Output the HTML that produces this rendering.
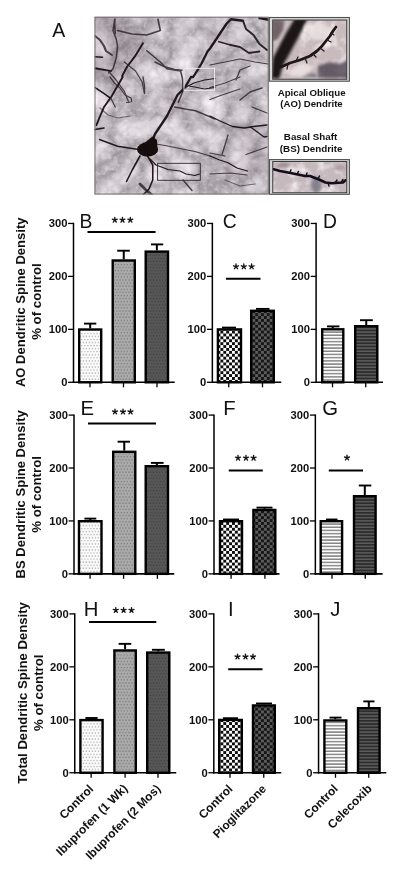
<!DOCTYPE html>
<html><head><meta charset="utf-8"><style>
html,body{margin:0;padding:0;background:#fff;}
body{width:400px;height:875px;overflow:hidden;}
svg{display:block;font-family:'Liberation Sans', sans-serif;will-change:transform;}
</style></head><body>
<svg width="400" height="875" viewBox="0 0 400 875" xmlns="http://www.w3.org/2000/svg">
<defs>
<pattern id="dotW" width="3.05" height="6.1" patternUnits="userSpaceOnUse"><rect width="3.05" height="6.1" fill="#fbfbfb"/><rect x="0.4" y="0.4" width="1.2" height="1.1" fill="#9a9a9a"/><rect x="1.95" y="3.45" width="1.2" height="1.1" fill="#9a9a9a"/></pattern>
<pattern id="dotG" width="3.05" height="6.2" patternUnits="userSpaceOnUse"><rect width="3.05" height="6.2" fill="#aaaaaa"/><rect x="0.4" y="0.4" width="1.3" height="1.2" fill="#747474"/><rect x="1.95" y="3.5" width="1.3" height="1.2" fill="#747474"/></pattern>
<pattern id="dotD" width="3.05" height="6.2" patternUnits="userSpaceOnUse"><rect width="3.05" height="6.2" fill="#575757"/><rect x="0.4" y="0.4" width="1.3" height="1.2" fill="#3c3c3c"/><rect x="1.95" y="3.5" width="1.3" height="1.2" fill="#3c3c3c"/></pattern>
<pattern id="chkW" width="5.8" height="5.8" patternUnits="userSpaceOnUse"><rect width="5.8" height="5.8" fill="#fdfdfd"/><rect width="2.9" height="2.9" fill="#0e0e0e"/><rect x="2.9" y="2.9" width="2.9" height="2.9" fill="#0e0e0e"/></pattern>
<pattern id="chkD" width="5.8" height="5.8" patternUnits="userSpaceOnUse"><rect width="5.8" height="5.8" fill="#5c5c5c"/><rect width="2.9" height="2.9" fill="#161616"/><rect x="2.9" y="2.9" width="2.9" height="2.9" fill="#161616"/></pattern>
<pattern id="strW" width="4" height="3.2" patternUnits="userSpaceOnUse"><rect width="4" height="3.2" fill="#fdfdfd"/><rect y="1.75" width="4" height="1.45" fill="#838383"/></pattern>
<pattern id="strD" width="4" height="3.2" patternUnits="userSpaceOnUse"><rect width="4" height="3.2" fill="#2c2c2c"/><rect y="1.75" width="4" height="1.4" fill="#5e5e5e"/></pattern>
<filter id="tex" x="0" y="0" width="100%" height="100%" color-interpolation-filters="sRGB">
  <feTurbulence type="turbulence" baseFrequency="0.035" numOctaves="3" seed="9" result="n"/>
  <feColorMatrix in="n" type="matrix" values="0.5 0 0 0 0.605  0.5 0 0 0 0.58  0.5 0 0 0 0.602  0 0 0 0 1" />
</filter>
<filter id="tex2" x="0" y="0" width="100%" height="100%" color-interpolation-filters="sRGB">
  <feTurbulence type="fractalNoise" baseFrequency="0.25" numOctaves="2" seed="3" result="n"/>
  <feColorMatrix in="n" type="matrix" values="0 0 0 0 0.95  0 0 0 0 0.93  0 0 0 0 0.94  0 1.2 0 0 -0.6" />
</filter>
<filter id="tex3" x="0" y="0" width="100%" height="100%">
  <feTurbulence type="fractalNoise" baseFrequency="0.08" numOctaves="3" seed="11" result="n"/>
  <feColorMatrix in="n" type="matrix" values="0 0 0 0 0.95  0 0 0 0 0.93  0 0 0 0 0.94  0 2.2 0 0 -1.0" />
</filter>
<filter id="blur1"><feGaussianBlur stdDeviation="0.9"/></filter>
<filter id="blur07"><feGaussianBlur stdDeviation="0.65"/></filter>
<filter id="blur15"><feGaussianBlur stdDeviation="1.4"/></filter>
<filter id="blur6" x="-50%" y="-50%" width="200%" height="200%"><feGaussianBlur stdDeviation="8"/></filter>
<filter id="blur05"><feGaussianBlur stdDeviation="0.45"/></filter>
<g id="star"><path d="M0,0 L0.00,-2.60 M0,0 L2.47,-0.80 M0,0 L1.53,2.10 M0,0 L-1.53,2.10 M0,0 L-2.47,-0.80" stroke="#151515" stroke-width="1.35" stroke-linecap="round" fill="none"/><circle r="0.95" fill="#151515"/></g>
</defs>
<rect width="400" height="875" fill="#fff"/>
<g id="panelA">
<clipPath id="clipM"><rect x="94.5" y="16.75" width="174.25" height="177.75"/></clipPath>
<g clip-path="url(#clipM)">
<rect x="94.5" y="16.75" width="174.25" height="177.75" fill="#c0b6bb"/>
<rect x="94.5" y="16.75" width="174.25" height="177.75" filter="url(#tex)"/>
<rect x="94.5" y="16.75" width="174.25" height="177.75" filter="url(#tex2)"/>
<ellipse cx="108" cy="50" rx="28" ry="40" fill="#4a3842" opacity="0.18" filter="url(#blur6)"/>
<ellipse cx="250" cy="150" rx="25" ry="40" fill="#4a3842" opacity="0.10" filter="url(#blur6)"/>
<!-- soft out-of-focus structures -->
<g fill="none" stroke="#33262d" stroke-linecap="round" stroke-linejoin="round" filter="url(#blur05)" opacity="0.85">
<path d="M115,19 L113,30.5 L116.4,39.5 L117.5,46.3 L116.4,57.5 L113,69 L108.5,73" stroke-width="1.54"/>
<path d="M117.5,30.5 L132,34 L146.8,35 L160.3,30.5 L158,19.25" stroke-width="1.68"/>
<path d="M146.8,50.75 L160.3,62 L167,68.8 L180.6,71 L182.8,80 L182.8,91.25 L178.3,102.5" stroke-width="1.54"/>
<path d="M124.3,62 L135.5,71 L142.3,82.3 L144.5,93.5" stroke-width="1.26"/>
<path d="M95,68.8 L108.5,71 L116,80 L124.3,91.25 L128.8,102.5" stroke-width="1.26"/>
<path d="M97.25,89 L110.75,98 L115.25,107" stroke-width="1.26"/>
<path d="M95,36 L100,40 L104,46 L106,51 L112,55" stroke-width="2.10"/>
<path d="M114.5,20 L115.2,33.5" stroke-width="1.68"/>
<path d="M155,62 L164,66.5 L174.5,69.5 L182,70.2" stroke-width="1.40"/>
<path d="M210,65 L225,62 L240,59 L255,62 L268,64" stroke-width="1.26"/>
<path d="M110,77 L114.5,83 L120,88 L125,95 L131,98 L131.75,101.75 L126.5,102.5" stroke-width="1.26"/>
<path d="M143,77 L144.5,86 L144.5,93.5" stroke-width="1.40"/>
<path d="M174.5,107 L185,109 L195.5,110.75 L204.5,114.5 L215,119" stroke-width="1.40"/>
<path d="M210,87.5 L225,83 L240,77" stroke-width="1.26"/>
<path d="M210,99.5 L222,95 L240,89" stroke-width="1.26"/>
<path d="M252,107 L267,113" stroke-width="1.26"/>
<path d="M156,144 L165,145.5 L180,148.5 L195,151.5 L210,156" stroke-width="1.26"/>
<path d="M183,180 L192,190.5" stroke-width="1.40"/>
<path d="M228,135 L225,145 L222,154.5" stroke-width="1.26"/>
<path d="M210,153 L225,156" stroke-width="1.26"/>
<path d="M246,154.5 L267,147" stroke-width="1.26"/>
<path d="M210,174 L230,173 L247,175" stroke-width="1.12"/>
<path d="M140,184 L146,190 L152,195" stroke-width="2.80"/>
<path d="M240,100 L250,92 L262,88" stroke-width="1.40"/>
<path d="M236,80 L240,70 L250,66" stroke-width="1.26"/>
<path d="M100,108 L108,115 L118,118 L130,116" stroke-width="1.26" opacity="0.7"/>
<path d="M225,180 L240,186 L255,184" stroke-width="1.26" opacity="0.7"/>
</g>
<!-- sharp dendrites -->
<g fill="none" stroke="#21181d" stroke-linecap="round" stroke-linejoin="round" filter="url(#blur05)">
<path d="M243,20.75 L231,19.25 L226.5,23.75 L219,35 L210,48.5 L207.5,51.5 L201.5,63.5 L197,71 L193.2,77 L191,77 L185,87.5 L177.5,95 L173,104 L167,116 L161,125 L155,134 L152,142" stroke-width="2.3"/>
<path d="M243,20.75 L246,29 L253.5,35 L259.5,44 L267,50" stroke-width="2" stroke="#2e2228"/>
<path d="M219,41.75 L229.5,44.75 L240,47 L249,53 L259.5,51.5" stroke-width="1.8" stroke="#2e2228"/>
<path d="M259.5,18 L270,20" stroke-width="2.5"/>
<path d="M143,43.2 L134.7,56.7 L127.2,66.5 L122,76.2 L122.75,77 L117.5,86 L111.5,96.5 L104,107 L99.5,117.5 L96.5,125" stroke-width="1.9"/>
<path d="M95,87.5 L104,93.5 L110,98" stroke-width="1.5"/>
<path d="M95,56.7 L102.5,57.2" stroke-width="1.6"/>
<path d="M95,68 L111.5,71" stroke-width="1.3"/>
<path d="M95,129.5 L104,128" stroke-width="1.6"/>
<path d="M185,87.5 L194,83 L204.5,80 L215,78.5" stroke-width="1.1"/>
<path d="M189.5,86 L204.5,89 L215,87.5" stroke-width="1"/>
<path d="M210,116 L219,120.5 L232.5,126.5 L244.5,128 L253.5,126.5 L267,125" stroke-width="1.3"/>
<path d="M250.5,127 L258,132.5 L264,137 L267,136.5" stroke-width="1.3"/>
<path d="M99.5,139.5 L117.5,146.25 L137,149.25" stroke-width="1.4"/>
<path d="M140,156 L132.5,169.5 L126.5,181.5" stroke-width="1.6"/>
<path d="M147.5,156 L152.75,165 L152.75,180 L149,189 L143,195" stroke-width="1.6"/>
<path d="M150,159 L156,165 L168,169.5 L180,171 L186,174 L195,175.5 L199.5,174" stroke-width="1.2"/>
<path d="M210,156 L219,159.75 L228,162.75 L237,168 L247.5,171" stroke-width="1.3"/>
</g>
<ellipse cx="147.5" cy="149.5" rx="10.5" ry="7.2" fill="#120d10" filter="url(#blur05)"/>
<path d="M142,145 L152.5,136.5 L157,140 L157.5,152 L150,156 Z" fill="#120d10" filter="url(#blur05)"/>
<rect x="184" y="68.3" width="30.5" height="22" fill="none" stroke="#f0eeee" stroke-width="0.9"/>
<rect x="157.6" y="163.3" width="42.7" height="17" fill="none" stroke="#2a2a2a" stroke-width="0.9"/>
</g>
<rect x="95" y="17.25" width="173.25" height="176.75" fill="none" stroke="#7a7276" stroke-width="1"/>
<!-- inset top -->
<rect x="269.3" y="17.5" width="80.1" height="63.7" fill="#d8d8d8" stroke="#505050" stroke-width="1.1"/>
<clipPath id="clipI1"><rect x="272.6" y="20" width="74.2" height="59.3"/></clipPath>
<g clip-path="url(#clipI1)">
<rect x="272.6" y="20" width="74.2" height="59.3" fill="#c9babd"/>
<rect x="272.6" y="20" width="74.2" height="59.3" filter="url(#tex3)"/>
<g filter="url(#blur15)">
<path d="M272,20 L285,20 L283,30 L277,40 L272,42 Z" fill="#5a4a50" opacity="0.8"/>
<path d="M271,78 L273,58 L282,40 L295,18 L308,18 L298,38 L290,53 L283,66 L279,79 Z" fill="#1c1518"/>
<path d="M318,66 L330,62 L340,64 L348,60 L349,78 L318,78 Z" fill="#4a4250" opacity="0.8"/>
<path d="M300,78 L306,72 L316,74 L318,78 Z" fill="#6a6068" opacity="0.7"/>
<path d="M305,26 L320,22 L335,30 L330,40 L312,40 Z" fill="#ece2e2" opacity="0.8"/>
<path d="M290,70 L300,64 L315,66 L305,76 L290,76 Z" fill="#efe6e6" opacity="0.8"/>
</g>
<g filter="url(#blur05)" fill="none" stroke-linecap="round" stroke-linejoin="round">
<path d="M281,67 L290,63 L300,60 L310,56 L317,51 L322,46 L326,41 L330,36 L333,31 L336,27" stroke="#1e1418" stroke-width="2.8"/>
<path d="M296,61 L298,57 M305,58 L307,63 M313,54 L316,57 M320,48 L324,51 M327,40 L331,42 M331,33 L334,35 M288,64 L287,69" stroke="#2a1f23" stroke-width="1.3"/>
</g>
</g>
<rect x="272.75" y="20" width="74" height="59.25" fill="none" stroke="#3a3a3a" stroke-width="1"/>
<!-- inset bottom -->
<rect x="269.5" y="159.6" width="79.9" height="34.7" fill="#d8d8d8" stroke="#505050" stroke-width="1.1"/>
<clipPath id="clipI2"><rect x="272.75" y="161.5" width="74" height="31.25"/></clipPath>
<g clip-path="url(#clipI2)">
<rect x="272.75" y="161.5" width="74" height="31.25" fill="#c6b9bd"/>
<rect x="272.75" y="161.5" width="74" height="31.25" filter="url(#tex3)"/>
<ellipse cx="316" cy="185" rx="5" ry="8" fill="#505468" opacity="0.55" filter="url(#blur15)"/>
<ellipse cx="283" cy="165" rx="7" ry="2" fill="#6a5a62" opacity="0.5" filter="url(#blur15)"/>
<ellipse cx="340" cy="168" rx="6" ry="3" fill="#8a7a82" opacity="0.4" filter="url(#blur15)"/>
<path d="M273.7,169.3 L280,171 L288,172.6 L299,174.8 L305,176 L310,176 L315,178 L319,179.5 L325.4,182.5 L332,183.2 L338,182.8 L343,182.5 L345.5,180.3" fill="none" stroke="#15101a" stroke-width="2.5" stroke-linecap="round" stroke-linejoin="round" filter="url(#blur05)"/>
<path d="M290,172.8 L291,169.8 M297,174.4 L298.5,171.4 M306,176 L307,173 M318,179 L319.5,176 M328,183 L329,186 M335,183 L337,180 M341,182.6 L343,179.5" fill="none" stroke="#15101a" stroke-width="1.4" stroke-linecap="round"/>
</g>
<rect x="272.75" y="161.5" width="74" height="31.25" fill="none" stroke="#3a3a3a" stroke-width="1"/>
</g>

<g fill="#111"><text transform="translate(52.3,37.2)" font-size="19.5">A</text><text transform="translate(311.6,95.5)" font-size="9.7" font-weight="bold" text-anchor="middle">Apical Oblique</text><text transform="translate(311.5,107.0)" font-size="9.6" font-weight="bold" text-anchor="middle">(AO) Dendrite</text><text transform="translate(310.5,140.25)" font-size="9.8" font-weight="bold" text-anchor="middle">Basal Shaft</text><text transform="translate(311.15,151.5)" font-size="9.8" font-weight="bold" text-anchor="middle">(BS) Dendrite</text></g>
<g fill="#111">
<line x1="90.20" y1="328.30" x2="90.20" y2="323.60" stroke="#000" stroke-width="2"/>
<line x1="84.00" y1="323.60" x2="96.30" y2="323.60" stroke="#000" stroke-width="1.9"/>
<rect x="79.20" y="329.50" width="22.00" height="52.80" fill="url(#dotW)" stroke="#000" stroke-width="2.4"/>
<line x1="123.75" y1="259.30" x2="123.75" y2="250.70" stroke="#000" stroke-width="2"/>
<line x1="117.20" y1="250.70" x2="129.80" y2="250.70" stroke="#000" stroke-width="1.9"/>
<rect x="112.70" y="260.50" width="22.10" height="121.80" fill="url(#dotG)" stroke="#000" stroke-width="2.4"/>
<line x1="156.85" y1="250.40" x2="156.85" y2="244.40" stroke="#000" stroke-width="2"/>
<line x1="151.00" y1="244.40" x2="163.20" y2="244.40" stroke="#000" stroke-width="1.9"/>
<rect x="145.70" y="251.60" width="22.30" height="130.70" fill="url(#dotD)" stroke="#000" stroke-width="2.4"/>
<line x1="73.50" y1="222.75" x2="73.50" y2="383.00" stroke="#000" stroke-width="1.5"/>
<line x1="72.80" y1="382.30" x2="174.75" y2="382.30" stroke="#000" stroke-width="1.6"/>
<line x1="68.10" y1="382.30" x2="73.50" y2="382.30" stroke="#000" stroke-width="1.3"/>
<text x="67.40" y="386.30" text-anchor="end" font-weight="bold" font-size="11.2">0</text>
<line x1="68.10" y1="329.35" x2="73.50" y2="329.35" stroke="#000" stroke-width="1.3"/>
<text x="67.40" y="333.35" text-anchor="end" font-weight="bold" font-size="11.2">100</text>
<line x1="68.10" y1="276.40" x2="73.50" y2="276.40" stroke="#000" stroke-width="1.3"/>
<text x="67.40" y="280.40" text-anchor="end" font-weight="bold" font-size="11.2">200</text>
<line x1="68.10" y1="223.45" x2="73.50" y2="223.45" stroke="#000" stroke-width="1.3"/>
<text x="67.40" y="227.45" text-anchor="end" font-weight="bold" font-size="11.2">300</text>
<line x1="90.00" y1="382.30" x2="90.00" y2="387.30" stroke="#000" stroke-width="1.3"/>
<line x1="123.50" y1="382.30" x2="123.50" y2="387.30" stroke="#000" stroke-width="1.3"/>
<line x1="157.00" y1="382.30" x2="157.00" y2="387.30" stroke="#000" stroke-width="1.3"/>
<line x1="87.5" y1="232" x2="155.6" y2="232" stroke="#000" stroke-width="2"/><use href="#star" x="114.8" y="220"/><use href="#star" x="122.5" y="220"/><use href="#star" x="130.3" y="220"/>
<text transform="translate(79.5,227.5)" font-size="19.3">B</text>
<line x1="229.45" y1="328.20" x2="229.45" y2="327.60" stroke="#000" stroke-width="2"/>
<line x1="222.00" y1="327.60" x2="236.00" y2="327.60" stroke="#000" stroke-width="1.9"/>
<rect x="217.90" y="329.40" width="23.10" height="52.90" fill="url(#chkW)" stroke="#000" stroke-width="2.4"/>
<line x1="262.50" y1="309.60" x2="262.50" y2="308.90" stroke="#000" stroke-width="2"/>
<line x1="256.00" y1="308.90" x2="269.50" y2="308.90" stroke="#000" stroke-width="1.9"/>
<rect x="251.20" y="310.80" width="22.60" height="71.50" fill="url(#chkD)" stroke="#000" stroke-width="2.4"/>
<line x1="212.35" y1="222.75" x2="212.35" y2="383.00" stroke="#000" stroke-width="1.5"/>
<line x1="211.65" y1="382.30" x2="281.25" y2="382.30" stroke="#000" stroke-width="1.6"/>
<line x1="206.95" y1="382.30" x2="212.35" y2="382.30" stroke="#000" stroke-width="1.3"/>
<text x="206.25" y="386.30" text-anchor="end" font-weight="bold" font-size="11.2">0</text>
<line x1="206.95" y1="329.35" x2="212.35" y2="329.35" stroke="#000" stroke-width="1.3"/>
<text x="206.25" y="333.35" text-anchor="end" font-weight="bold" font-size="11.2">100</text>
<line x1="206.95" y1="276.40" x2="212.35" y2="276.40" stroke="#000" stroke-width="1.3"/>
<text x="206.25" y="280.40" text-anchor="end" font-weight="bold" font-size="11.2">200</text>
<line x1="206.95" y1="223.45" x2="212.35" y2="223.45" stroke="#000" stroke-width="1.3"/>
<text x="206.25" y="227.45" text-anchor="end" font-weight="bold" font-size="11.2">300</text>
<line x1="228.75" y1="382.30" x2="228.75" y2="387.30" stroke="#000" stroke-width="1.3"/>
<line x1="262.50" y1="382.30" x2="262.50" y2="387.30" stroke="#000" stroke-width="1.3"/>
<line x1="226" y1="278.8" x2="260.5" y2="278.8" stroke="#000" stroke-width="2"/><use href="#star" x="236" y="266.6"/><use href="#star" x="243.8" y="266.6"/><use href="#star" x="251.6" y="266.6"/>
<text transform="translate(222.7,227.65)" font-size="19.3">C</text>
<line x1="332.75" y1="328.10" x2="332.75" y2="326.40" stroke="#000" stroke-width="2"/>
<line x1="327.00" y1="326.40" x2="339.40" y2="326.40" stroke="#000" stroke-width="1.9"/>
<rect x="322.20" y="329.30" width="21.10" height="53.00" fill="url(#strW)" stroke="#000" stroke-width="2.4"/>
<line x1="366.25" y1="325.00" x2="366.25" y2="320.20" stroke="#000" stroke-width="2"/>
<line x1="360.00" y1="320.20" x2="372.80" y2="320.20" stroke="#000" stroke-width="1.9"/>
<rect x="355.20" y="326.20" width="22.10" height="56.10" fill="url(#strD)" stroke="#000" stroke-width="2.4"/>
<line x1="316.10" y1="222.75" x2="316.10" y2="383.00" stroke="#000" stroke-width="1.5"/>
<line x1="315.40" y1="382.30" x2="383.00" y2="382.30" stroke="#000" stroke-width="1.6"/>
<line x1="310.70" y1="382.30" x2="316.10" y2="382.30" stroke="#000" stroke-width="1.3"/>
<text x="310.00" y="386.30" text-anchor="end" font-weight="bold" font-size="11.2">0</text>
<line x1="310.70" y1="329.35" x2="316.10" y2="329.35" stroke="#000" stroke-width="1.3"/>
<text x="310.00" y="333.35" text-anchor="end" font-weight="bold" font-size="11.2">100</text>
<line x1="310.70" y1="276.40" x2="316.10" y2="276.40" stroke="#000" stroke-width="1.3"/>
<text x="310.00" y="280.40" text-anchor="end" font-weight="bold" font-size="11.2">200</text>
<line x1="310.70" y1="223.45" x2="316.10" y2="223.45" stroke="#000" stroke-width="1.3"/>
<text x="310.00" y="227.45" text-anchor="end" font-weight="bold" font-size="11.2">300</text>
<line x1="332.50" y1="382.30" x2="332.50" y2="387.30" stroke="#000" stroke-width="1.3"/>
<line x1="365.75" y1="382.30" x2="365.75" y2="387.30" stroke="#000" stroke-width="1.3"/>
<text transform="translate(323.0,227.5)" font-size="19.3">D</text>
<line x1="90.25" y1="520.00" x2="90.25" y2="518.60" stroke="#000" stroke-width="2"/>
<line x1="84.40" y1="518.60" x2="96.30" y2="518.60" stroke="#000" stroke-width="1.9"/>
<rect x="79.00" y="521.20" width="22.50" height="52.65" fill="url(#dotW)" stroke="#000" stroke-width="2.4"/>
<line x1="124.25" y1="450.60" x2="124.25" y2="441.70" stroke="#000" stroke-width="2"/>
<line x1="117.60" y1="441.70" x2="130.00" y2="441.70" stroke="#000" stroke-width="1.9"/>
<rect x="113.20" y="451.80" width="22.10" height="122.05" fill="url(#dotG)" stroke="#000" stroke-width="2.4"/>
<line x1="156.85" y1="465.00" x2="156.85" y2="462.90" stroke="#000" stroke-width="2"/>
<line x1="150.90" y1="462.90" x2="163.60" y2="462.90" stroke="#000" stroke-width="1.9"/>
<rect x="145.70" y="466.20" width="22.30" height="107.65" fill="url(#dotD)" stroke="#000" stroke-width="2.4"/>
<line x1="74.00" y1="414.40" x2="74.00" y2="574.55" stroke="#000" stroke-width="1.5"/>
<line x1="73.30" y1="573.85" x2="174.25" y2="573.85" stroke="#000" stroke-width="1.6"/>
<line x1="68.60" y1="573.85" x2="74.00" y2="573.85" stroke="#000" stroke-width="1.3"/>
<text x="67.90" y="577.85" text-anchor="end" font-weight="bold" font-size="11.2">0</text>
<line x1="68.60" y1="520.93" x2="74.00" y2="520.93" stroke="#000" stroke-width="1.3"/>
<text x="67.90" y="524.93" text-anchor="end" font-weight="bold" font-size="11.2">100</text>
<line x1="68.60" y1="468.02" x2="74.00" y2="468.02" stroke="#000" stroke-width="1.3"/>
<text x="67.90" y="472.02" text-anchor="end" font-weight="bold" font-size="11.2">200</text>
<line x1="68.60" y1="415.10" x2="74.00" y2="415.10" stroke="#000" stroke-width="1.3"/>
<text x="67.90" y="419.10" text-anchor="end" font-weight="bold" font-size="11.2">300</text>
<line x1="90.05" y1="573.85" x2="90.05" y2="578.85" stroke="#000" stroke-width="1.3"/>
<line x1="123.60" y1="573.85" x2="123.60" y2="578.85" stroke="#000" stroke-width="1.3"/>
<line x1="157.40" y1="573.85" x2="157.40" y2="578.85" stroke="#000" stroke-width="1.3"/>
<line x1="88" y1="423.6" x2="156" y2="423.6" stroke="#000" stroke-width="2"/><use href="#star" x="115" y="411.8"/><use href="#star" x="123" y="411.8"/><use href="#star" x="130.5" y="411.8"/>
<text transform="translate(80.42,414.7)" font-size="20.3">E</text>
<line x1="231.00" y1="520.00" x2="231.00" y2="519.50" stroke="#000" stroke-width="2"/>
<line x1="223.00" y1="519.50" x2="239.00" y2="519.50" stroke="#000" stroke-width="1.9"/>
<rect x="220.00" y="521.20" width="22.00" height="52.65" fill="url(#chkW)" stroke="#000" stroke-width="2.4"/>
<line x1="264.35" y1="508.75" x2="264.35" y2="507.60" stroke="#000" stroke-width="2"/>
<line x1="256.50" y1="507.60" x2="272.50" y2="507.60" stroke="#000" stroke-width="1.9"/>
<rect x="253.40" y="509.95" width="21.90" height="63.90" fill="url(#chkD)" stroke="#000" stroke-width="2.4"/>
<line x1="214.00" y1="414.40" x2="214.00" y2="574.55" stroke="#000" stroke-width="1.5"/>
<line x1="213.30" y1="573.85" x2="279.50" y2="573.85" stroke="#000" stroke-width="1.6"/>
<line x1="208.60" y1="573.85" x2="214.00" y2="573.85" stroke="#000" stroke-width="1.3"/>
<text x="207.90" y="577.85" text-anchor="end" font-weight="bold" font-size="11.2">0</text>
<line x1="208.60" y1="520.93" x2="214.00" y2="520.93" stroke="#000" stroke-width="1.3"/>
<text x="207.90" y="524.93" text-anchor="end" font-weight="bold" font-size="11.2">100</text>
<line x1="208.60" y1="468.02" x2="214.00" y2="468.02" stroke="#000" stroke-width="1.3"/>
<text x="207.90" y="472.02" text-anchor="end" font-weight="bold" font-size="11.2">200</text>
<line x1="208.60" y1="415.10" x2="214.00" y2="415.10" stroke="#000" stroke-width="1.3"/>
<text x="207.90" y="419.10" text-anchor="end" font-weight="bold" font-size="11.2">300</text>
<line x1="231.10" y1="573.85" x2="231.10" y2="578.85" stroke="#000" stroke-width="1.3"/>
<line x1="264.90" y1="573.85" x2="264.90" y2="578.85" stroke="#000" stroke-width="1.3"/>
<line x1="228.8" y1="470.5" x2="262.8" y2="470.5" stroke="#000" stroke-width="2"/><use href="#star" x="238" y="458"/><use href="#star" x="246" y="458"/><use href="#star" x="253.6" y="458"/>
<text transform="translate(223.2,414.75)" font-size="20.3">F</text>
<line x1="331.40" y1="520.00" x2="331.40" y2="519.50" stroke="#000" stroke-width="2"/>
<line x1="326.00" y1="519.50" x2="337.50" y2="519.50" stroke="#000" stroke-width="1.9"/>
<rect x="320.70" y="521.20" width="21.40" height="52.65" fill="url(#strW)" stroke="#000" stroke-width="2.4"/>
<line x1="364.80" y1="495.00" x2="364.80" y2="485.50" stroke="#000" stroke-width="2"/>
<line x1="358.80" y1="485.50" x2="371.30" y2="485.50" stroke="#000" stroke-width="1.9"/>
<rect x="354.00" y="496.20" width="21.60" height="77.65" fill="url(#strD)" stroke="#000" stroke-width="2.4"/>
<line x1="315.35" y1="414.40" x2="315.35" y2="574.55" stroke="#000" stroke-width="1.5"/>
<line x1="314.65" y1="573.85" x2="382.60" y2="573.85" stroke="#000" stroke-width="1.6"/>
<line x1="309.95" y1="573.85" x2="315.35" y2="573.85" stroke="#000" stroke-width="1.3"/>
<text x="309.25" y="577.85" text-anchor="end" font-weight="bold" font-size="11.2">0</text>
<line x1="309.95" y1="520.93" x2="315.35" y2="520.93" stroke="#000" stroke-width="1.3"/>
<text x="309.25" y="524.93" text-anchor="end" font-weight="bold" font-size="11.2">100</text>
<line x1="309.95" y1="468.02" x2="315.35" y2="468.02" stroke="#000" stroke-width="1.3"/>
<text x="309.25" y="472.02" text-anchor="end" font-weight="bold" font-size="11.2">200</text>
<line x1="309.95" y1="415.10" x2="315.35" y2="415.10" stroke="#000" stroke-width="1.3"/>
<text x="309.25" y="419.10" text-anchor="end" font-weight="bold" font-size="11.2">300</text>
<line x1="332.00" y1="573.85" x2="332.00" y2="578.85" stroke="#000" stroke-width="1.3"/>
<line x1="365.25" y1="573.85" x2="365.25" y2="578.85" stroke="#000" stroke-width="1.3"/>
<line x1="328.8" y1="470.6" x2="363" y2="470.6" stroke="#000" stroke-width="2"/><use href="#star" x="347" y="457.8"/>
<text transform="translate(322.18,414.7)" font-size="20.3">G</text>
<line x1="91.50" y1="718.90" x2="91.50" y2="718.00" stroke="#000" stroke-width="2"/>
<line x1="85.40" y1="718.00" x2="97.60" y2="718.00" stroke="#000" stroke-width="1.9"/>
<rect x="80.40" y="720.10" width="22.20" height="52.65" fill="url(#dotW)" stroke="#000" stroke-width="2.4"/>
<line x1="125.10" y1="649.25" x2="125.10" y2="643.85" stroke="#000" stroke-width="2"/>
<line x1="118.65" y1="643.85" x2="131.25" y2="643.85" stroke="#000" stroke-width="1.9"/>
<rect x="114.40" y="650.45" width="21.40" height="122.30" fill="url(#dotG)" stroke="#000" stroke-width="2.4"/>
<line x1="158.25" y1="651.35" x2="158.25" y2="649.80" stroke="#000" stroke-width="2"/>
<line x1="151.90" y1="649.80" x2="164.85" y2="649.80" stroke="#000" stroke-width="1.9"/>
<rect x="147.20" y="652.55" width="22.10" height="120.20" fill="url(#dotD)" stroke="#000" stroke-width="2.4"/>
<line x1="74.75" y1="613.20" x2="74.75" y2="773.45" stroke="#000" stroke-width="1.5"/>
<line x1="74.05" y1="772.75" x2="176.25" y2="772.75" stroke="#000" stroke-width="1.6"/>
<line x1="69.35" y1="772.75" x2="74.75" y2="772.75" stroke="#000" stroke-width="1.3"/>
<text x="68.65" y="776.75" text-anchor="end" font-weight="bold" font-size="11.2">0</text>
<line x1="69.35" y1="719.80" x2="74.75" y2="719.80" stroke="#000" stroke-width="1.3"/>
<text x="68.65" y="723.80" text-anchor="end" font-weight="bold" font-size="11.2">100</text>
<line x1="69.35" y1="666.85" x2="74.75" y2="666.85" stroke="#000" stroke-width="1.3"/>
<text x="68.65" y="670.85" text-anchor="end" font-weight="bold" font-size="11.2">200</text>
<line x1="69.35" y1="613.90" x2="74.75" y2="613.90" stroke="#000" stroke-width="1.3"/>
<text x="68.65" y="617.90" text-anchor="end" font-weight="bold" font-size="11.2">300</text>
<line x1="91.15" y1="772.75" x2="91.15" y2="777.75" stroke="#000" stroke-width="1.3"/>
<line x1="125.10" y1="772.75" x2="125.10" y2="777.75" stroke="#000" stroke-width="1.3"/>
<line x1="158.00" y1="772.75" x2="158.00" y2="777.75" stroke="#000" stroke-width="1.3"/>
<line x1="89" y1="622.1" x2="156.3" y2="622.1" stroke="#000" stroke-width="2"/><use href="#star" x="115.8" y="610.2"/><use href="#star" x="123.6" y="610.2"/><use href="#star" x="131.5" y="610.2"/>
<text transform="translate(83.85,616.35)" font-size="20.3">H</text>
<line x1="230.50" y1="718.75" x2="230.50" y2="718.20" stroke="#000" stroke-width="2"/>
<line x1="223.00" y1="718.20" x2="238.00" y2="718.20" stroke="#000" stroke-width="1.9"/>
<rect x="219.20" y="719.95" width="22.60" height="52.80" fill="url(#chkW)" stroke="#000" stroke-width="2.4"/>
<line x1="263.90" y1="704.25" x2="263.90" y2="703.50" stroke="#000" stroke-width="2"/>
<line x1="256.00" y1="703.50" x2="272.00" y2="703.50" stroke="#000" stroke-width="1.9"/>
<rect x="253.00" y="705.45" width="21.80" height="67.30" fill="url(#chkD)" stroke="#000" stroke-width="2.4"/>
<line x1="213.80" y1="613.20" x2="213.80" y2="773.45" stroke="#000" stroke-width="1.5"/>
<line x1="213.10" y1="772.75" x2="281.25" y2="772.75" stroke="#000" stroke-width="1.6"/>
<line x1="208.40" y1="772.75" x2="213.80" y2="772.75" stroke="#000" stroke-width="1.3"/>
<text x="207.70" y="776.75" text-anchor="end" font-weight="bold" font-size="11.2">0</text>
<line x1="208.40" y1="719.80" x2="213.80" y2="719.80" stroke="#000" stroke-width="1.3"/>
<text x="207.70" y="723.80" text-anchor="end" font-weight="bold" font-size="11.2">100</text>
<line x1="208.40" y1="666.85" x2="213.80" y2="666.85" stroke="#000" stroke-width="1.3"/>
<text x="207.70" y="670.85" text-anchor="end" font-weight="bold" font-size="11.2">200</text>
<line x1="208.40" y1="613.90" x2="213.80" y2="613.90" stroke="#000" stroke-width="1.3"/>
<text x="207.70" y="617.90" text-anchor="end" font-weight="bold" font-size="11.2">300</text>
<line x1="230.00" y1="772.75" x2="230.00" y2="777.75" stroke="#000" stroke-width="1.3"/>
<line x1="263.75" y1="772.75" x2="263.75" y2="777.75" stroke="#000" stroke-width="1.3"/>
<line x1="228.2" y1="669.2" x2="262.5" y2="669.2" stroke="#000" stroke-width="2"/><use href="#star" x="237.5" y="656.8"/><use href="#star" x="245.5" y="656.8"/><use href="#star" x="253" y="656.8"/>
<text transform="translate(228.0,616.25)" font-size="20.3">I</text>
<line x1="335.35" y1="719.25" x2="335.35" y2="717.60" stroke="#000" stroke-width="2"/>
<line x1="329.50" y1="717.60" x2="341.50" y2="717.60" stroke="#000" stroke-width="1.9"/>
<rect x="324.40" y="720.45" width="21.90" height="52.30" fill="url(#strW)" stroke="#000" stroke-width="2.4"/>
<line x1="368.80" y1="707.00" x2="368.80" y2="701.40" stroke="#000" stroke-width="2"/>
<line x1="363.30" y1="701.40" x2="374.50" y2="701.40" stroke="#000" stroke-width="1.9"/>
<rect x="358.00" y="708.20" width="21.60" height="64.55" fill="url(#strD)" stroke="#000" stroke-width="2.4"/>
<line x1="318.55" y1="613.20" x2="318.55" y2="773.45" stroke="#000" stroke-width="1.5"/>
<line x1="317.85" y1="772.75" x2="386.25" y2="772.75" stroke="#000" stroke-width="1.6"/>
<line x1="313.15" y1="772.75" x2="318.55" y2="772.75" stroke="#000" stroke-width="1.3"/>
<text x="312.45" y="776.75" text-anchor="end" font-weight="bold" font-size="11.2">0</text>
<line x1="313.15" y1="719.80" x2="318.55" y2="719.80" stroke="#000" stroke-width="1.3"/>
<text x="312.45" y="723.80" text-anchor="end" font-weight="bold" font-size="11.2">100</text>
<line x1="313.15" y1="666.85" x2="318.55" y2="666.85" stroke="#000" stroke-width="1.3"/>
<text x="312.45" y="670.85" text-anchor="end" font-weight="bold" font-size="11.2">200</text>
<line x1="313.15" y1="613.90" x2="318.55" y2="613.90" stroke="#000" stroke-width="1.3"/>
<text x="312.45" y="617.90" text-anchor="end" font-weight="bold" font-size="11.2">300</text>
<line x1="335.50" y1="772.75" x2="335.50" y2="777.75" stroke="#000" stroke-width="1.3"/>
<line x1="368.75" y1="772.75" x2="368.75" y2="777.75" stroke="#000" stroke-width="1.3"/>
<text transform="translate(330.15,616.4)" font-size="20.3">J</text>
<text transform="translate(24.85,302.25) rotate(-90)" font-size="13.05" font-weight="bold" text-anchor="middle">AO Dendritic Spine Density</text>
<text transform="translate(41.12,301.58) rotate(-90)" font-size="13.25" font-weight="bold" text-anchor="middle">% of control</text>
<text transform="translate(25.25,494.35) rotate(-90)" font-size="13.05" font-weight="bold" text-anchor="middle">BS Dendritic Spine Density</text>
<text transform="translate(41.2,494.38) rotate(-90)" font-size="13.3" font-weight="bold" text-anchor="middle">% of control</text>
<text transform="translate(26.5,692.9) rotate(-90)" font-size="13.15" font-weight="bold" text-anchor="middle">Total Dendritic Spine Density</text>
<text transform="translate(42.55,692.75) rotate(-90)" font-size="13.25" font-weight="bold" text-anchor="middle">% of control</text>
<text transform="translate(94.18,789.75) rotate(-45)" font-size="11.95" font-weight="bold" text-anchor="end">Control</text>
<text transform="translate(128.25,789.25) rotate(-45)" font-size="12.05" font-weight="bold" text-anchor="end">Ibuprofen (1 Wk)</text>
<text transform="translate(161.25,789.5) rotate(-45)" font-size="11.95" font-weight="bold" text-anchor="end">Ibuprofen (2 Mos)</text>
<text transform="translate(233.45,789.55) rotate(-45)" font-size="11.95" font-weight="bold" text-anchor="end">Control</text>
<text transform="translate(266.9,789.62) rotate(-45)" font-size="11.8" font-weight="bold" text-anchor="end">Pioglitazone</text>
<text transform="translate(338.7,789.5) rotate(-45)" font-size="11.95" font-weight="bold" text-anchor="end">Control</text>
<text transform="translate(372.62,789.35) rotate(-45)" font-size="12.0" font-weight="bold" text-anchor="end">Celecoxib</text>
</g>
</svg>
</body></html>
